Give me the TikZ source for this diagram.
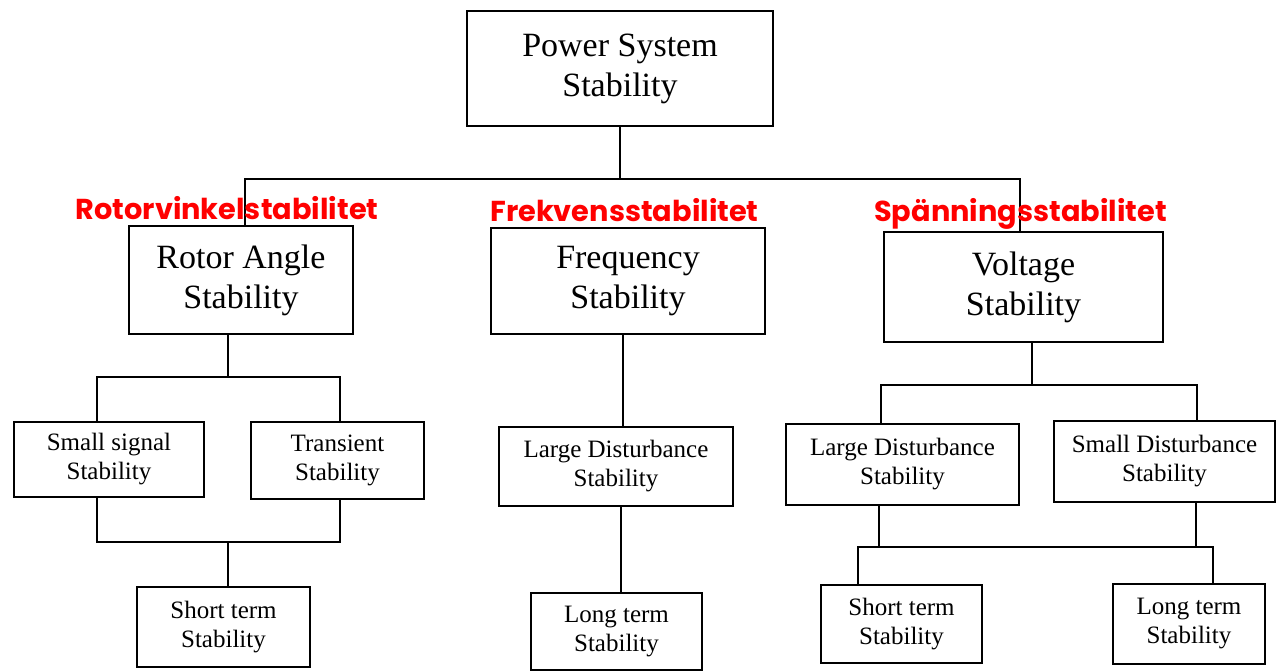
\documentclass[tikz,border=0pt]{standalone}
\usepackage{fontspec}
\setmainfont{Liberation Serif}
\newfontfamily\lblfont{Poppins}[UprightFont=* Bold]
\definecolor{lblred}{RGB}{255,0,0}
\begin{document}
\begin{tikzpicture}[x=1pt,y=-1pt,
  box/.style={draw, line width=1.7pt, inner sep=0pt, align=center},
  bigbox/.style={box, font=\fontsize{34}{40}\selectfont},
  smallbox/.style={box, font=\fontsize{25}{29}\selectfont},
  ln/.style={line width=1.7pt},
  lbl/.style={text=lblred, inner sep=0pt, font=\lblfont\fontsize{28.8}{34}\selectfont}]
\useasboundingbox[fill=white] (0,0) rectangle (1277,671);

% boxes
\node[bigbox, minimum width=306pt, minimum height=115pt] (pss) at (620,68.5) {Power System\\Stability};
\node[bigbox, minimum width=224pt, minimum height=108pt] (rot) at (241,280) {Rotor Angle\\Stability};
\node[bigbox, minimum width=274pt, minimum height=106pt] (freq) at (628,281) {Frequency\\Stability};
\node[bigbox, minimum width=279pt, minimum height=110pt] (volt) at (1023.5,287) {Voltage\\Stability};

\node[smallbox, minimum width=190pt, minimum height=75pt] (ss) at (109,459.5) {Small signal\\Stability};
\node[smallbox, minimum width=173pt, minimum height=77pt] (tr) at (337.5,460.5) {Transient\\Stability};
\node[smallbox, minimum width=173pt, minimum height=80pt] (st1) at (223.5,627) {Short term\\Stability};

\node[smallbox, minimum width=234pt, minimum height=79pt] (fld) at (616,466.5) {Large Disturbance\\Stability};
\node[smallbox, minimum width=171pt, minimum height=77pt] (flt) at (616.5,631.5) {Long term\\Stability};

\node[smallbox, minimum width=233pt, minimum height=81pt] (vld) at (902.5,464.5) {Large Disturbance\\Stability};
\node[smallbox, minimum width=221pt, minimum height=81pt] (vsd) at (1164.5,461.5) {Small Disturbance\\Stability};
\node[smallbox, minimum width=161pt, minimum height=78pt] (vst) at (901.5,624) {Short term\\Stability};
\node[smallbox, minimum width=152pt, minimum height=80pt] (vlt) at (1189,624) {Long term\\Stability};

% top level connectors
\coordinate (b0) at (620,179);
\draw[ln] (pss.south) -- (b0);
\draw[ln] ([xshift=4pt]rot.north) -- ([xshift=4pt]rot.north |- b0) -- ([xshift=-3.5pt]volt.north |- b0) -- ([xshift=-3.5pt]volt.north);

% rotor angle branch
\coordinate (b1) at (228,377);
\draw[ln] ([xshift=-13pt]rot.south) -- (b1);
\draw[ln] ([xshift=-12pt]ss.north) -- ([xshift=-12pt]ss.north |- b1) -- ([xshift=2.5pt]tr.north |- b1) -- ([xshift=2.5pt]tr.north);
\coordinate (b2) at (228,542);
\draw[ln] ([xshift=-12pt]ss.south) -- ([xshift=-12pt]ss.south |- b2) -- ([xshift=2.5pt]tr.south |- b2) -- ([xshift=2.5pt]tr.south);
\draw[ln] (b2) -- ([xshift=4.5pt]st1.north);

% frequency branch
\draw[ln] ([xshift=-5pt]freq.south) -- ([xshift=7pt]fld.north);
\draw[ln] ([xshift=5pt]fld.south) -- ([xshift=4.5pt]flt.north);

% voltage branch
\coordinate (b3) at (1032,385);
\draw[ln] ([xshift=8.5pt]volt.south) -- (b3);
\draw[ln] ([xshift=-21.5pt]vld.north) -- ([xshift=-21.5pt]vld.north |- b3) -- ([xshift=32.5pt]vsd.north |- b3) -- ([xshift=32.5pt]vsd.north);
\coordinate (b4) at (1000,547);
\draw[ln] ([xshift=-23.5pt]vld.south) -- ([xshift=-23.5pt]vld.south |- b4);
\draw[ln] ([xshift=31.5pt]vsd.south) -- ([xshift=31.5pt]vsd.south |- b4);
\draw[ln] ([xshift=-43.5pt]vst.north) -- ([xshift=-43.5pt]vst.north |- b4) -- ([xshift=24pt]vlt.north |- b4) -- ([xshift=24pt]vlt.north);

% red labels
\node[lbl] (l1) at (227,208) {Rotorvinkelstabilitet};
\node[lbl] (l2) at (624.5,210) {Frekvensstabilitet};
\node[lbl] (l3) at (1020.5,213.5) {Spänningsstabilitet};
\end{tikzpicture}
\end{document}
